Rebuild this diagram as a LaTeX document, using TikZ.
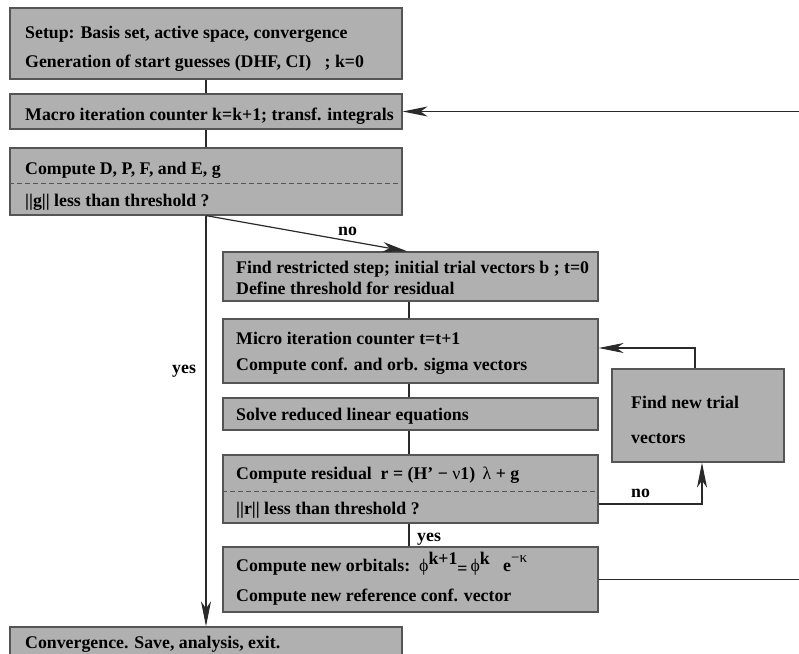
\documentclass[tikz,border=0pt]{standalone}
\usepackage{fontspec}
\setmainfont{Liberation Serif}
\usetikzlibrary{arrows.meta}
\definecolor{boxfill}{HTML}{B0B0B0}
\definecolor{boxline}{HTML}{555555}
\definecolor{wirec}{HTML}{2A2A2A}
\begin{document}
\begin{tikzpicture}[x=1pt,y=-1pt,
  box/.style={draw=boxline, fill=boxfill, line width=1.2pt, inner sep=0pt},
  txt/.style={anchor=base west, inner sep=0pt, font=\fontsize{17.8}{20}\selectfont\bfseries},
  wire/.style={draw=wirec, line width=1.2pt},
  arr/.style={wire, -{Stealth[length=25pt,width=10pt,inset=7pt]}},
  dashln/.style={draw=boxline, line width=0.6pt, dash pattern=on 5pt off 3pt}]
\clip (0,0) rectangle (799,653);
\useasboundingbox (0,0) rectangle (799,653);
\fill[white] (0,0) rectangle (799,653);
% boxes
\node[box, minimum width=392pt, minimum height=71pt] (b1) at (206,43.5) {};
\node[box, minimum width=392pt, minimum height=35pt] (b2) at (206,111.5) {};
\node[box, minimum width=392pt, minimum height=67pt] (b3) at (206,181.5) {};
\node[box, minimum width=375pt, minimum height=49pt] (b4) at (410.5,276.5) {};
\node[box, minimum width=375pt, minimum height=64pt] (b5) at (410.5,351) {};
\node[box, minimum width=375pt, minimum height=32pt] (b6) at (410.5,414) {};
\node[box, minimum width=375pt, minimum height=68pt] (b7) at (410.5,489) {};
\node[box, minimum width=375pt, minimum height=65pt] (b8) at (410.5,579.5) {};
\node[box, minimum width=172pt, minimum height=93pt] (bf) at (698,415.5) {};
\node[box, minimum width=392pt, minimum height=46pt] (conv) at (206,650) {};
% dashed separators
\draw[dashln] ([yshift=-1.5pt]b3.west) -- ([yshift=-1.5pt]b3.east);
\draw[dashln] ([yshift=-2pt]b7.west) -- ([yshift=-2pt]b7.east);
% texts
\node[txt] (t1a) at (25,38) {Setup: Basis set, active space, convergence};
\node[txt] (t1b) at (25,67) {Generation of start guesses (DHF, CI) \ \ ; k=0};
\node[txt] (t2) at (25,120) {Macro iteration counter k=k+1; transf. integrals};
\node[txt] (t3a) at (25,174) {Compute D, P, F, and E, g};
\node[txt] (t3b) at (25,206) {||g|| less than threshold ?};
\node[txt] (t4a) at (236,273) {Find restricted step; initial trial vectors b ; t=0};
\node[txt] (t4b) at (236,294) {Define threshold for residual};
\node[txt] (t5a) at (236,344) {Micro iteration counter t=t+1};
\node[txt] (t5b) at (236,370) {Compute conf. and orb. sigma vectors};
\node[txt] (t6) at (236,420) {Solve reduced linear equations};
\node[txt] (t7a) at (236,479) {Compute residual \ r = (H’ − {\mdseries ν}1) \,{\mdseries λ} + g};
\node[txt] (t7b) at (236,514) {||r|| less than threshold ?};
\node[txt] (t8a) at (236,571) {Compute new orbitals: \,{\mdseries ϕ}\raisebox{7pt}{k+1}\raisebox{-3pt}{=}\,{\mdseries ϕ}\raisebox{7pt}{k}\ \ \ e\raisebox{9pt}{\fontsize{15}{15}\selectfont\mdseries −κ}};
\node[txt] (t8b) at (236,601) {Compute new reference conf. vector};
\node[txt] (tfa) at (631,408) {Find new trial};
\node[txt] (tfb) at (631,443) {vectors};
\node[txt] (tc) at (25,648) {Convergence. Save, analysis, exit.};
% labels
\node[txt] (lyes1) at (172,373) {yes};
\node[txt] (lno1) at (338,235) {no};
\node[txt] (lno2) at (631,497) {no};
\node[txt] (lyes2) at (417,541) {yes};
% connectors
\coordinate (rt) at (799,111.5);
\coordinate (rb) at (799,579.5);
\draw[wire] (b1) -- (b2);
\draw[wire] (b2) -- (b3);
\draw[arr] (b3.south) -- (conv.north);
\draw[arr] (b3.south) -- ([xshift=-3pt]b4.north);
\draw[wire] ([xshift=-1.5pt]b4.south) -- ([xshift=-1.5pt]b5.north);
\draw[wire] ([xshift=-1.5pt]b5.south) -- ([xshift=-1.5pt]b6.north);
\draw[wire] ([xshift=-1.5pt]b6.south) -- ([xshift=-1.5pt]b7.north);
\draw[wire] ([xshift=-1.5pt]b7.south) -- ([xshift=-1.5pt]b8.north);
\draw[arr] ([yshift=-15pt]b7.east) -| ([xshift=4pt]bf.south);
\draw[arr] ([xshift=-3pt]bf.north) |- ([yshift=3pt]b5.east);
\draw[wire] (b8.east) -- (rb);
\draw[arr] (rt) -- (b2.east);
\end{tikzpicture}
\end{document}
